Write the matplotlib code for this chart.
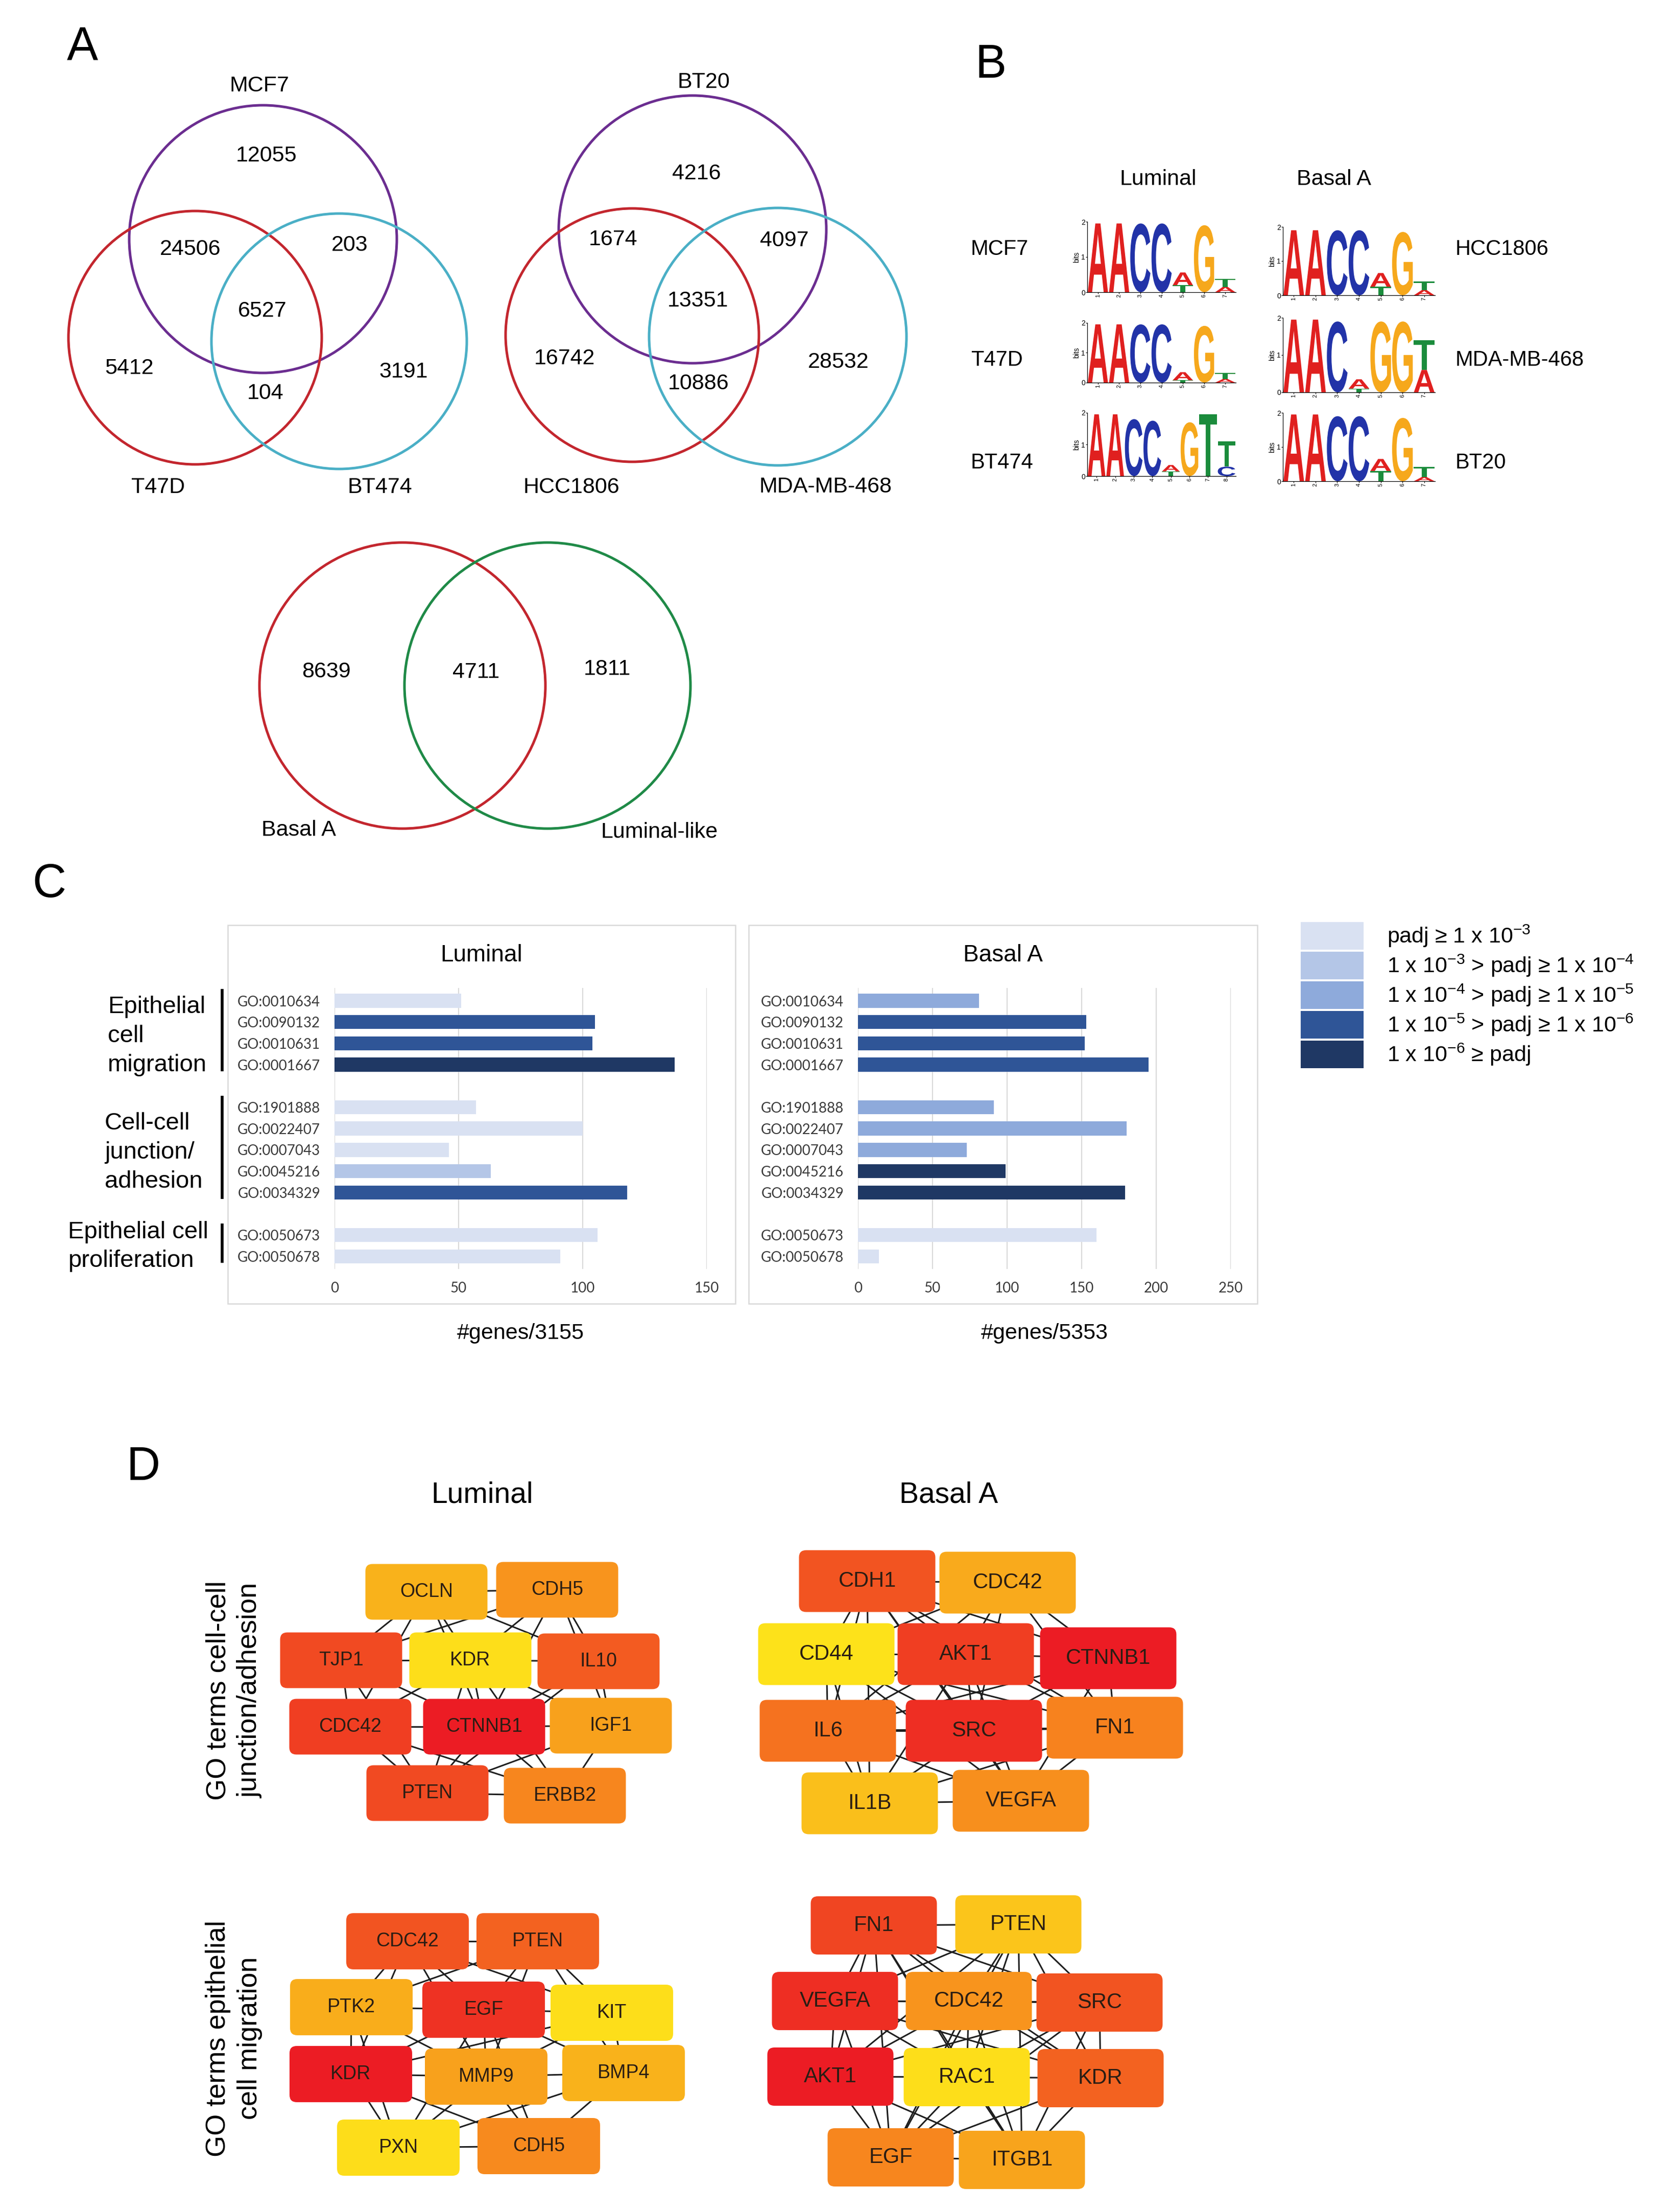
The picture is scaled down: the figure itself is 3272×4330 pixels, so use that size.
import numpy as np
import matplotlib
matplotlib.use('Agg')
import matplotlib.pyplot as plt
import matplotlib.patches as mpatches
from matplotlib.textpath import TextPath
from matplotlib.font_manager import FontProperties
from matplotlib.transforms import Affine2D
from matplotlib.colors import LinearSegmentedColormap

plt.rcParams['font.family'] = ['Liberation Sans', 'DejaVu Sans']
plt.rcParams['mathtext.fontset'] = 'custom'
plt.rcParams['mathtext.rm'] = 'Liberation Sans'
plt.rcParams['mathtext.it'] = 'Liberation Sans:italic'

W, H = 3272, 4330

# ---------------- data ----------------
# Panel A: Venn region counts
lum_lines = ['MCF7', 'T47D', 'BT474']
lum_counts = [12055, 24506, 203, 6527, 5412, 3191, 104]
bas_lines = ['BT20', 'HCC1806', 'MDA-MB-468']
bas_counts = [4216, 1674, 4097, 13351, 16742, 28532, 10886]
subtypes = ['Basal A', 'Luminal-like']
subtype_counts = [8639, 4711, 1811]

# Panel B: motif logos, columns bottom -> top as (letter, bits)
logo_lum_names = ['MCF7', 'T47D', 'BT474']
logo_bas_names = ['HCC1806', 'MDA-MB-468', 'BT20']
logo_mcf7 = [[('A', 1.95)], [('A', 1.95)], [('C', 1.95)], [('C', 1.95)],
             [('T', 0.2), ('A', 0.36)], [('G', 1.9)], [('A', 0.15), ('T', 0.23)]]
logo_t47d = [[('A', 1.95)], [('A', 1.95)], [('C', 1.95)], [('C', 1.95)],
             [('T', 0.08), ('A', 0.27)], [('G', 1.9)], [('A', 0.12), ('T', 0.2)]]
logo_bt474 = [[('A', 1.95)], [('A', 1.95)], [('C', 1.8)], [('C', 1.75)],
              [('T', 0.15), ('A', 0.2)], [('G', 1.7)], [('T', 1.95)], [('C', 0.3), ('T', 0.8)]]
logo_hcc1806 = [[('A', 1.9)], [('A', 1.9)], [('C', 1.9)], [('C', 1.9)],
                [('T', 0.25), ('A', 0.4)], [('G', 1.85)], [('A', 0.15), ('T', 0.25)]]
logo_mda468 = [[('A', 1.95)], [('A', 1.95)], [('C', 1.9)], [('T', 0.1), ('A', 0.25)],
               [('G', 1.9)], [('G', 1.9)], [('A', 0.6), ('T', 0.8)]]
logo_bt20 = [[('A', 1.95)], [('A', 1.95)], [('C', 1.9)], [('C', 1.9)],
             [('T', 0.3), ('A', 0.35)], [('G', 1.85)], [('A', 0.12), ('T', 0.3)]]
logo_colors = {'A': '#e0201f', 'C': '#2233a8', 'G': '#f6a81c', 'T': '#1b8c3c'}

# Panel C: GO enrichment
go_groups = ['Epithelial\ncell\nmigration', 'Cell-cell\njunction/\nadhesion', 'Epithelial cell\nproliferation']
go_group_sizes = [4, 5, 2]
go_terms = ['GO:0010634', 'GO:0090132', 'GO:0010631', 'GO:0001667',
            'GO:1901888', 'GO:0022407', 'GO:0007043', 'GO:0045216', 'GO:0034329',
            'GO:0050673', 'GO:0050678']
lum_genes = [51, 105, 104, 137, 57, 100, 46, 63, 118, 106, 91]
lum_level = [0, 3, 3, 4, 0, 0, 0, 1, 3, 0, 0]
bas_genes = [81, 153, 152, 195, 91, 180, 73, 99, 179, 160, 14]
bas_level = [2, 3, 3, 3, 2, 2, 2, 4, 4, 0, 0]
padj_labels = [r'padj ≥ 1 x 10$^{-3}$',
               r'1 x 10$^{-3}$ > padj ≥ 1 x 10$^{-4}$',
               r'1 x 10$^{-4}$ > padj ≥ 1 x 10$^{-5}$',
               r'1 x 10$^{-5}$ > padj ≥ 1 x 10$^{-6}$',
               r'1 x 10$^{-6}$ ≥ padj']
padj_colors = ['#d9e1f2', '#b4c6e7', '#8eaadb', '#2f5597', '#1f3864']

# Panel D: networks (node score 0 = yellow, 1 = red)
lj_nodes = ['OCLN', 'CDH5', 'TJP1', 'KDR', 'IL10', 'CDC42', 'CTNNB1', 'IGF1', 'PTEN', 'ERBB2']
lj_score = [0.25, 0.42, 0.8, 0.02, 0.72, 0.85, 1.0, 0.35, 0.8, 0.5]
lj_edges = ['OCLN-CDH5', 'OCLN-TJP1', 'OCLN-KDR', 'OCLN-CTNNB1', 'OCLN-IL10', 'OCLN-CDC42',
            'CDH5-KDR', 'CDH5-IL10', 'CDH5-CTNNB1', 'CDH5-TJP1', 'CDH5-IGF1', 'TJP1-KDR',
            'TJP1-CDC42', 'TJP1-CTNNB1', 'TJP1-PTEN', 'KDR-IL10', 'KDR-CTNNB1', 'KDR-CDC42',
            'KDR-IGF1', 'KDR-PTEN', 'KDR-ERBB2', 'IL10-CTNNB1', 'IL10-IGF1', 'IL10-PTEN',
            'CDC42-CTNNB1', 'CDC42-PTEN', 'CDC42-ERBB2', 'CTNNB1-IGF1', 'CTNNB1-PTEN',
            'CTNNB1-ERBB2', 'IGF1-ERBB2', 'IGF1-PTEN', 'PTEN-ERBB2']
lm_nodes = ['CDC42', 'PTEN', 'PTK2', 'EGF', 'KIT', 'KDR', 'MMP9', 'BMP4', 'PXN', 'CDH5']
lm_score = [0.75, 0.68, 0.28, 0.9, 0.02, 1.0, 0.35, 0.25, 0.03, 0.48]
lm_edges = ['CDC42-PTEN', 'CDC42-PTK2', 'CDC42-EGF', 'CDC42-KDR', 'CDC42-MMP9', 'CDC42-KIT',
            'PTEN-EGF', 'PTEN-KIT', 'PTEN-PTK2', 'PTEN-MMP9', 'PTEN-BMP4', 'PTK2-EGF',
            'PTK2-KDR', 'PTK2-MMP9', 'PTK2-PXN', 'EGF-KIT', 'EGF-KDR', 'EGF-MMP9', 'EGF-BMP4',
            'EGF-PXN', 'EGF-CDH5', 'KIT-MMP9', 'KIT-BMP4', 'KIT-KDR', 'KDR-MMP9', 'KDR-PXN',
            'KDR-CDH5', 'MMP9-BMP4', 'MMP9-PXN', 'MMP9-CDH5', 'BMP4-CDH5', 'BMP4-PXN', 'PXN-CDH5']
bj_nodes = ['CDH1', 'CDC42', 'CD44', 'AKT1', 'CTNNB1', 'IL6', 'SRC', 'FN1', 'IL1B', 'VEGFA']
bj_score = [0.75, 0.3, 0.0, 0.85, 1.0, 0.6, 0.92, 0.52, 0.18, 0.45]
bj_edges = ['CDH1-CDC42', 'CDH1-CD44', 'CDH1-AKT1', 'CDH1-CTNNB1', 'CDH1-IL6', 'CDH1-SRC',
            'CDH1-FN1', 'CDH1-IL1B', 'CDH1-VEGFA', 'CDC42-AKT1', 'CDC42-CTNNB1', 'CDC42-SRC',
            'CDC42-CD44', 'CDC42-FN1', 'CDC42-IL6', 'CD44-AKT1', 'CD44-IL6', 'CD44-SRC',
            'CD44-FN1', 'CD44-IL1B', 'CD44-VEGFA', 'AKT1-CTNNB1', 'AKT1-IL6', 'AKT1-SRC',
            'AKT1-FN1', 'AKT1-IL1B', 'AKT1-VEGFA', 'CTNNB1-SRC', 'CTNNB1-FN1', 'CTNNB1-IL6',
            'CTNNB1-VEGFA', 'IL6-SRC', 'IL6-IL1B', 'IL6-VEGFA', 'IL6-FN1', 'SRC-FN1',
            'SRC-IL1B', 'SRC-VEGFA', 'FN1-VEGFA', 'FN1-IL1B', 'IL1B-VEGFA']
bm_nodes = ['FN1', 'PTEN', 'VEGFA', 'CDC42', 'SRC', 'AKT1', 'RAC1', 'KDR', 'EGF', 'ITGB1']
bm_score = [0.82, 0.15, 0.92, 0.42, 0.75, 1.0, 0.02, 0.68, 0.5, 0.33]
bm_edges = ['FN1-PTEN', 'FN1-VEGFA', 'FN1-CDC42', 'FN1-SRC', 'FN1-AKT1', 'FN1-RAC1', 'FN1-KDR',
            'FN1-EGF', 'FN1-ITGB1', 'PTEN-VEGFA', 'PTEN-CDC42', 'PTEN-SRC', 'PTEN-AKT1',
            'PTEN-RAC1', 'PTEN-KDR', 'PTEN-EGF', 'PTEN-ITGB1', 'VEGFA-CDC42', 'VEGFA-AKT1',
            'VEGFA-RAC1', 'VEGFA-KDR', 'VEGFA-EGF', 'VEGFA-SRC', 'CDC42-SRC', 'CDC42-AKT1',
            'CDC42-RAC1', 'CDC42-KDR', 'CDC42-EGF', 'CDC42-ITGB1', 'SRC-AKT1', 'SRC-RAC1',
            'SRC-KDR', 'SRC-EGF', 'SRC-ITGB1', 'AKT1-RAC1', 'AKT1-EGF', 'AKT1-ITGB1',
            'RAC1-KDR', 'RAC1-EGF', 'RAC1-ITGB1', 'KDR-EGF', 'KDR-ITGB1', 'EGF-ITGB1']

# ---------------- layout (pixel coordinates) ----------------
venn_lum_circles = [(515, 468, 262, '#6b2d90'), (382, 661, 248, '#c3262e'), (664, 668, 250, '#4aafc6')]
venn_lum_label_xy = [(508, 168), (310, 954), (744, 954)]
venn_lum_count_xy = [(522, 305), (373, 488), (685, 480), (514, 609), (253, 721), (790, 728), (520, 770)]
venn_bas_circles = [(1356, 449, 262, '#6b2d90'), (1238, 656, 248, '#c3262e'), (1523, 659, 252, '#4aafc6')]
venn_bas_label_xy = [(1378, 161), (1119, 954), (1616, 953)]
venn_bas_count_xy = [(1364, 340), (1200, 469), (1536, 471), (1366, 589), (1105, 702), (1642, 709), (1368, 751)]
venn_sub_circles = [(788, 1342, 280, '#c3262e'), (1072, 1342, 280, '#1f8a47')]
venn_sub_label_xy = [(585, 1625), (1291, 1629)]
venn_sub_count_xy = [(639, 1315), (932, 1316), (1189, 1310)]

logo_lum_rows = [(434, 572), (632, 749), (808, 932)]
logo_bas_rows = [(444, 578), (622, 768), (808, 942)]
logo_label_y = [488, 705, 906]

lj_xy = [(835, 3116), (1091, 3112), (668, 3250), (921, 3250), (1172, 3252),
         (686, 3380), (948, 3380), (1196, 3378), (837, 3510), (1106, 3515)]
lm_xy = [(798, 3800), (1053, 3800), (688, 3929), (947, 3934), (1198, 3940),
         (687, 4060), (952, 4065), (1221, 4058), (780, 4204), (1055, 4201)]
bj_xy = [(1698, 3095), (1973, 3098), (1618, 3238), (1891, 3238), (2170, 3246),
         (1621, 3388), (1907, 3388), (2183, 3382), (1703, 3530), (1999, 3525)]
bm_xy = [(1711, 3769), (1994, 3767), (1635, 3917), (1897, 3917), (2153, 3920),
         (1626, 4065), (1893, 4066), (2155, 4068), (1744, 4223), (2001, 4228)]

node_cmap = LinearSegmentedColormap.from_list(
    'degree', ['#fde21a', '#f9b21b', '#f7861e', '#f25521', '#ec1c24'])

fig = plt.figure(figsize=(W / 100, H / 100), dpi=100)
base = fig.add_axes([0, 0, 1, 1])
base.set_xlim(0, W)
base.set_ylim(H, 0)
base.axis('off')


def px_axes(x0, y0, x1, y1):
    '''Axes placed by pixel box (top-left origin).'''
    ax = fig.add_axes([x0 / W, 1 - y1 / H, (x1 - x0) / W, (y1 - y0) / H])
    ax.set_facecolor('none')
    return ax


# ---------------- panel letters ----------------
for letter, (x, y) in zip('ABCD', [(161, 95), (1940, 128), (96, 1732), (281, 2873)]):
    base.text(x, y, letter, fontsize=66, ha='center', va='center')

# ---------------- panel A ----------------
venn_font = ['Liberation Sans Narrow', 'Liberation Sans', 'DejaVu Sans']


def draw_venn(circles, names, name_xy, counts, count_xy):
    for cx, cy, r, col in circles:
        base.add_patch(mpatches.Circle((cx, cy), r, fill=False, ec=col, lw=3.6))
    for name, (x, y) in zip(names, name_xy):
        base.text(x, y, name, fontsize=31, ha='center', va='center', family=venn_font)
    for n, (x, y) in zip(counts, count_xy):
        base.text(x, y, str(n), fontsize=31, ha='center', va='center', family=venn_font)


draw_venn(venn_lum_circles, lum_lines, venn_lum_label_xy, lum_counts, venn_lum_count_xy)
draw_venn(venn_bas_circles, bas_lines, venn_bas_label_xy, bas_counts, venn_bas_count_xy)
draw_venn(venn_sub_circles, subtypes, venn_sub_label_xy, subtype_counts, venn_sub_count_xy)

# ---------------- panel B ----------------
logo_font = FontProperties(family='Liberation Sans', weight='bold')


def draw_logo(ax, columns):
    for i, col in enumerate(columns):
        y = 0
        for ch, h in col:
            tp = TextPath((0, 0), ch, size=1, prop=logo_font)
            bb = tp.get_extents()
            tr = (Affine2D().translate(-bb.x0, -bb.y0)
                  .scale(0.95 / bb.width, h / bb.height)
                  .translate(i + 1 - 0.475, y))
            ax.add_patch(mpatches.PathPatch(tr.transform_path(tp), fc=logo_colors[ch], ec='none'))
            y += h
    ax.set_xlim(0.5, len(columns) + 0.5)
    ax.set_ylim(0, 2)
    ax.set_yticks([0, 1, 2])
    ax.set_yticklabels(['0', '1', '2'], fontsize=10)
    ax.set_xticks(range(1, len(columns) + 1))
    ax.set_xticklabels([str(k) for k in range(1, len(columns) + 1)], fontsize=8, rotation=90)
    ax.set_ylabel('bits', fontsize=10, labelpad=1)
    ax.tick_params(length=2, width=0.8, pad=1)
    for s in ['top', 'right']:
        ax.spines[s].set_visible(False)
    for s in ['left', 'bottom']:
        ax.spines[s].set_linewidth(0.9)


for lrow, brow, ly, lum_logo, bas_logo, ln, bn in zip(
        logo_lum_rows, logo_bas_rows, logo_label_y,
        [logo_mcf7, logo_t47d, logo_bt474], [logo_hcc1806, logo_mda468, logo_bt20],
        logo_lum_names, logo_bas_names):
    draw_logo(px_axes(2129, lrow[0], 2420, lrow[1]), lum_logo)
    n_bas = len(bas_logo)
    draw_logo(px_axes(2512, brow[0], 2512 + 40 * n_bas + 18, brow[1]), bas_logo)
    base.text(1901, ly, ln, fontsize=30, ha='left', va='center')
    base.text(2850, ly, bn, fontsize=30, ha='left', va='center')
base.text(2268, 351, 'Luminal', fontsize=31, ha='center', va='center')
base.text(2612, 351, 'Basal A', fontsize=31, ha='center', va='center')

# ---------------- panel C ----------------
slots = []
pos = 0
for size in go_group_sizes:
    slots.extend(range(pos, pos + size))
    pos += size + 1
slots = np.array(slots)
n_slots = pos - 1
slot_px = 41.7
bar_top = 1959 - 0.6 * slot_px
bar_bot = 1959 + (n_slots - 1 + 0.6) * slot_px


def bar_panel(x0, x1, xmax, values, levels, title, xlabel, box):
    bx0, by0, bx1, by1 = box
    base.add_patch(mpatches.Rectangle((bx0, by0), bx1 - bx0, by1 - by0, fill=False,
                                      ec='#d9d9d9', lw=1.8))
    ax = px_axes(x0, bar_top, x1, bar_bot)
    ax.barh(slots, values, height=0.66, color=[padj_colors[l] for l in levels], zorder=2)
    ax.set_xlim(0, xmax)
    ax.set_ylim(n_slots - 1 + 0.6, -0.6)
    ax.set_yticks(slots)
    ax.set_yticklabels(go_terms, fontsize=20, family=['Lato', 'DejaVu Sans'], color='#3a3a3a')
    ax.set_xticks(np.arange(0, xmax + 1, 50))
    ax.set_xticklabels([str(v) for v in np.arange(0, xmax + 1, 50)], fontsize=20,
                       family=['Lato', 'DejaVu Sans'], color='#3a3a3a')
    ax.grid(axis='x', color='#d9d9d9', lw=1.5, zorder=0)
    ax.set_axisbelow(True)
    for s in ax.spines.values():
        s.set_visible(False)
    ax.tick_params(length=0)
    ax.tick_params(axis='y', pad=20)
    ax.tick_params(axis='x', pad=18)
    base.text((bx0 + bx1) / 2, 1870, title, fontsize=33, ha='center', va='center')
    base.text((x0 + x1) / 2, 2610, xlabel, fontsize=31, ha='center', va='center')


bar_panel(655, 1384, 150, lum_genes, lum_level, 'Luminal', '#genes/3155', (446, 1811, 1440, 2552))
bar_panel(1680, 2410, 250, bas_genes, bas_level, 'Basal A', '#genes/5353', (1466, 1811, 2462, 2552))

# group brackets + labels
start = 0
group_text_xy = [(211, 2028), (205, 2256), (133, 2440)]
for size, label, (tx, ty) in zip(go_group_sizes, go_groups, group_text_xy):
    top = 1959 + slots[start] * slot_px - 23
    bot = 1959 + slots[start + size - 1] * slot_px + 13
    base.plot([435, 435], [top, bot], color='black', lw=4, solid_capstyle='butt')
    base.text(tx, ty, label, fontsize=34, ha='left', va='center', linespacing=1.38)
    start += size

# legend
for i, (lab, col) in enumerate(zip(padj_labels, padj_colors)):
    yc = 1832 + i * 58
    base.add_patch(mpatches.Rectangle((2547, yc - 27), 123, 54, fc=col, ec='none'))
    base.text(2716, yc, lab, fontsize=31, ha='left', va='center')

# ---------------- panel D ----------------
base.text(944, 2926, 'Luminal', fontsize=41, ha='center', va='center')
base.text(1858, 2926, 'Basal A', fontsize=41, ha='center', va='center')
base.text(458, 3309, 'GO terms cell-cell\njunction/adhesion', fontsize=39, rotation=90,
          ha='center', va='center', linespacing=1.3)
base.text(458, 3990, 'GO terms epithelial\ncell migration', fontsize=39, rotation=90,
          ha='center', va='center', linespacing=1.3)


def draw_network(nodes, scores, edges, xy, w, h, fs):
    where = dict(zip(nodes, xy))
    for e in edges:
        a, b = e.split('-')
        (xa, ya), (xb, yb) = where[a], where[b]
        base.plot([xa, xb], [ya, yb], color='#1e1e1e', lw=2.2, zorder=1)
    for name, s, (x, y) in zip(nodes, scores, xy):
        base.add_patch(mpatches.FancyBboxPatch((x - w / 2, y - h / 2), w, h,
                                               boxstyle='round,pad=0,rounding_size=14',
                                               fc=node_cmap(s), ec='none', zorder=2))
        base.text(x, y, name, fontsize=fs, ha='center', va='center', color='#2a1d14', zorder=3)


draw_network(lj_nodes, lj_score, lj_edges, lj_xy, 239, 109, 27)
draw_network(lm_nodes, lm_score, lm_edges, lm_xy, 240, 110, 27)
draw_network(bj_nodes, bj_score, bj_edges, bj_xy, 267, 121, 30)
draw_network(bm_nodes, bm_score, bm_edges, bm_xy, 247, 114, 30)

fig.savefig('out.png', dpi=100)
